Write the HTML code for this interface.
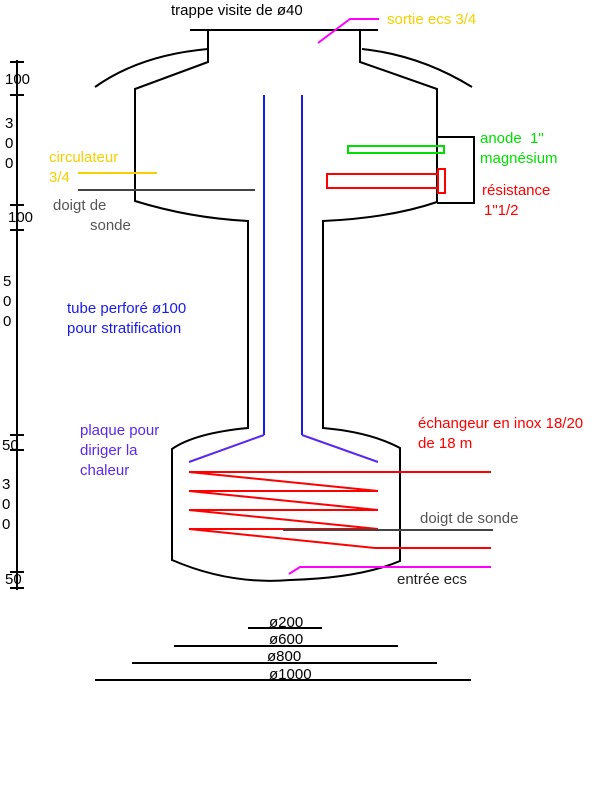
<!DOCTYPE html>
<html><head><meta charset="utf-8"><style>
html,body{margin:0;padding:0;background:#fff}
svg{display:block}
text{font-family:"Liberation Sans",Arial,sans-serif;font-size:15px}
</style></head><body>
<svg width="600" height="800" viewBox="0 0 600 800" xmlns="http://www.w3.org/2000/svg">
<g fill="none" stroke="#000" stroke-width="2">
<line x1="190" y1="30" x2="378" y2="30"/>
<path d="M208 30 V62 L135 89 V201 Q190 218 248 221 V428 Q195 433 172 449 V560 Q230 585 290 580 Q360 578 400 561 V448 Q370 432 323 428 V221 Q390 218 437 202 V89 L360 62 V30"/>
<path d="M95 87 Q140 55 208 49"/>
<path d="M362 49 Q420 55 472 87"/>
<path d="M437 137 H474 V203 H437"/>
</g>
<rect x="348" y="146" width="96" height="7" fill="none" stroke="#00e000" stroke-width="2"/>
<rect x="327" y="174" width="111" height="14" fill="none" stroke="#f00" stroke-width="2"/>
<rect x="438" y="169" width="7" height="24" fill="none" stroke="#f00" stroke-width="2"/>
<g stroke="#1a1aee" stroke-width="2" fill="none">
<path d="M264 95 V435"/><path d="M302 95 V435"/>
</g>
<g stroke="#5a28f0" stroke-width="2" fill="none">
<path d="M264 435 L189 462"/><path d="M302 435 L378 462"/>
</g>
<g stroke="#f00" stroke-width="2" fill="none">
<path d="M189 472 H491"/>
<path d="M189 472 L378 491 M189 491 H378 M189 491 L378 510 M189 510 H378 M189 510 L378 529 M189 529 H378 M189 529 L375 548 H491"/>
</g>
<g stroke="#444" stroke-width="2">
<line x1="78" y1="190" x2="255" y2="190"/>
<line x1="283" y1="530" x2="493" y2="530"/>
</g>
<line x1="78" y1="173" x2="157" y2="173" stroke="#f5d000" stroke-width="2"/>
<path d="M289 574 L300 567 H491" stroke="#f0f" stroke-width="2" fill="none"/>
<path d="M318 43 L350 19 H379" stroke="#f0f" stroke-width="2" fill="none"/>
<g stroke="#000" stroke-width="2">
<line x1="17" y1="60" x2="17" y2="590"/>
<line x1="10" y1="62" x2="24" y2="62"/>
<line x1="10" y1="95" x2="24" y2="95"/>
<line x1="10" y1="205" x2="24" y2="205"/>
<line x1="10" y1="230" x2="24" y2="230"/>
<line x1="10" y1="435" x2="24" y2="435"/>
<line x1="10" y1="450" x2="24" y2="450"/>
<line x1="10" y1="572" x2="24" y2="572"/>
<line x1="10" y1="588" x2="24" y2="588"/>
<line x1="248" y1="628" x2="322" y2="628"/>
<line x1="174" y1="646" x2="398" y2="646"/>
<line x1="132" y1="663" x2="437" y2="663"/>
<line x1="95" y1="680" x2="471" y2="680"/>
</g>
<g fill="#000">
<text x="5" y="84">100</text>
<text x="5" y="128">3</text><text x="5" y="148">0</text><text x="5" y="168">0</text>
<text x="8" y="222">100</text>
<text x="3" y="286">5</text><text x="3" y="306">0</text><text x="3" y="326">0</text>
<text x="2" y="450">50</text>
<text x="2" y="489">3</text><text x="2" y="509">0</text><text x="2" y="529">0</text>
<text x="5" y="584">50</text>
<text x="171" y="15">trappe visite de ø40</text>
<text x="269" y="627">ø200</text>
<text x="269" y="644">ø600</text>
<text x="267" y="661">ø800</text>
<text x="269" y="679">ø1000</text>
<text x="397" y="584" fill="#222">entrée ecs</text>
</g>
<text x="387" y="24" fill="#f5d000">sortie ecs 3/4</text>
<text x="49" y="162" fill="#f5d000">circulateur</text>
<text x="49" y="182" fill="#f5d000">3/4</text>
<text x="53" y="210" fill="#555">doigt de</text>
<text x="90" y="230" fill="#555">sonde</text>
<text x="480" y="143" fill="#00e000">anode&#160;&#160;1"</text>
<text x="480" y="163" fill="#00e000">magnésium</text>
<text x="482" y="195" fill="#f00">résistance</text>
<text x="484" y="215" fill="#f00">1"1/2</text>
<text x="67" y="313" fill="#1a1aee">tube perforé ø100</text>
<text x="67" y="333" fill="#1a1aee">pour stratification</text>
<text x="80" y="435" fill="#5a28f0">plaque pour</text>
<text x="80" y="455" fill="#5a28f0">diriger la</text>
<text x="80" y="475" fill="#5a28f0">chaleur</text>
<text x="418" y="428" fill="#f00">échangeur en inox 18/20</text>
<text x="418" y="448" fill="#f00">de 18 m</text>
<text x="420" y="523" fill="#555">doigt de sonde</text>
</svg>
</body></html>
